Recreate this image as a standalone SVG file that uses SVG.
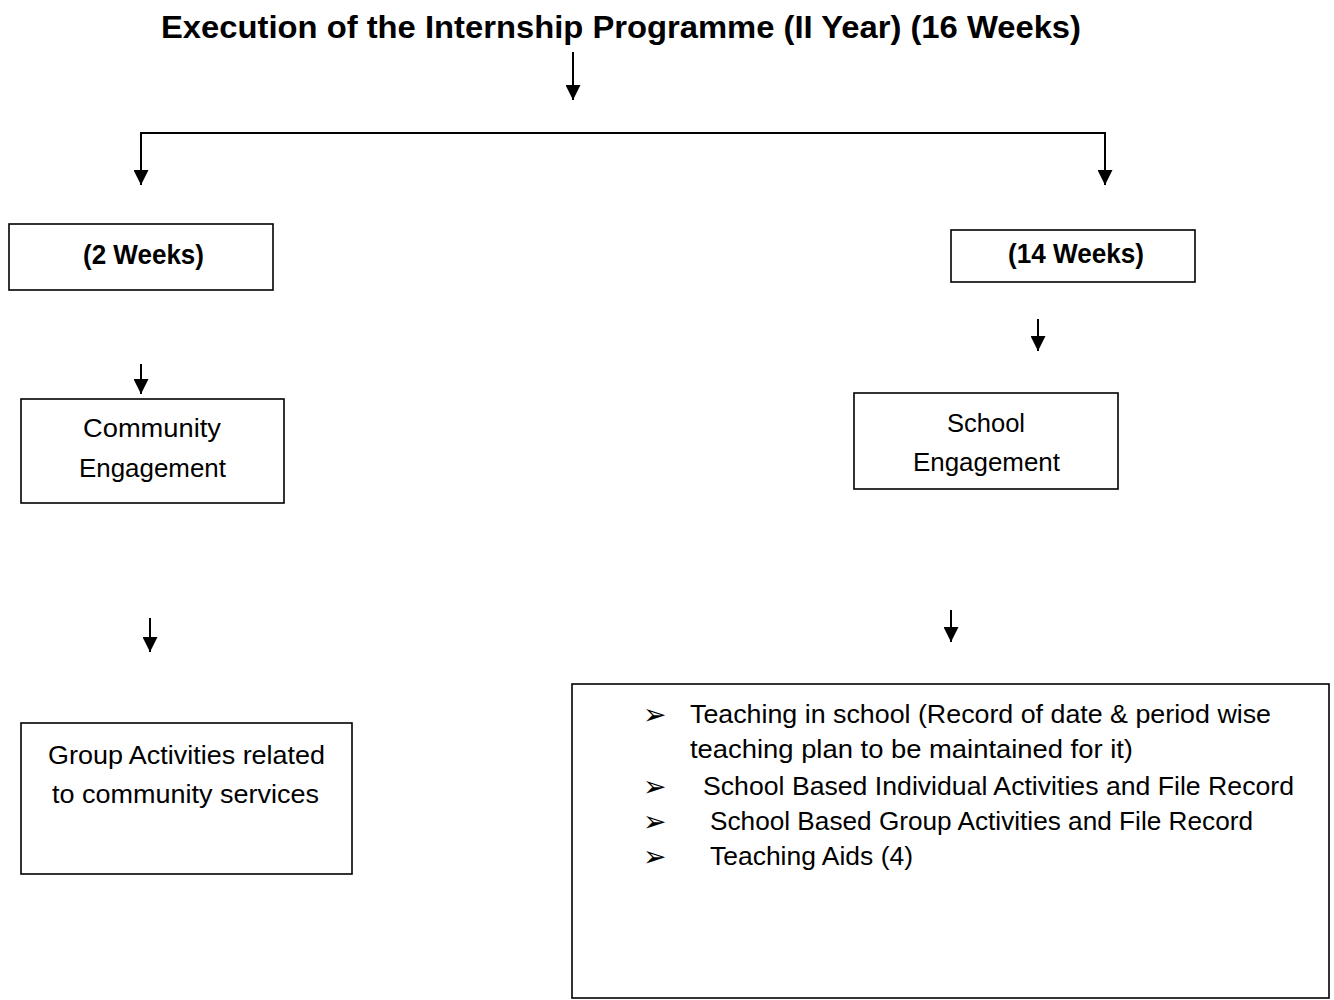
<svg xmlns="http://www.w3.org/2000/svg" width="1334" height="1000" viewBox="0 0 1334 1000">
<style>
.box{fill:#fff;stroke:#000;stroke-width:1.6}
.t{font-family:"Liberation Sans",Arial,sans-serif;font-size:26px;fill:#000}
.b{font-family:"Liberation Sans",Arial,sans-serif;font-size:27px;font-weight:bold;fill:#000}
.ttl{font-family:"Liberation Sans",Arial,sans-serif;font-size:31px;font-weight:bold;fill:#000}
.bul{font-family:"DejaVu Sans",sans-serif;font-size:28px;fill:#000}
.c{fill:none;stroke:#000;stroke-width:2}
</style>
<defs>
<marker id="ah" viewBox="0 0 10 10" refX="10" refY="5" markerWidth="15" markerHeight="15" markerUnits="userSpaceOnUse" orient="auto">
<path d="M0,0 L10,5 L0,10 z" fill="#000"/>
</marker>
</defs>
<rect width="1334" height="1000" fill="#fff"/>
<g id="title">
<text class="ttl" x="161" y="38" textLength="920" lengthAdjust="spacingAndGlyphs">Execution of the Internship Programme (II Year) (16 Weeks)</text>
</g>
<g id="connectors">
<line class="c" x1="573" y1="52" x2="573" y2="100" marker-end="url(#ah)"/>
<polyline class="c" points="141,185 141,133 1105,133 1105,185" stroke-linejoin="miter"/>
<line class="c" x1="141" y1="160" x2="141" y2="185" marker-end="url(#ah)"/>
<line class="c" x1="1105" y1="160" x2="1105" y2="185" marker-end="url(#ah)"/>
<line class="c" x1="141" y1="364" x2="141" y2="394" marker-end="url(#ah)"/>
<line class="c" x1="1038" y1="319" x2="1038" y2="351" marker-end="url(#ah)"/>
<line class="c" x1="150" y1="618" x2="150" y2="652" marker-end="url(#ah)"/>
<line class="c" x1="951" y1="610" x2="951" y2="642" marker-end="url(#ah)"/>
</g>
<g id="n2weeks">
<rect class="box" x="9" y="224" width="264" height="66"/>
<text class="b" x="83" y="264" textLength="121" lengthAdjust="spacingAndGlyphs">(2 Weeks)</text>
</g>
<g id="n14weeks">
<rect class="box" x="951" y="230" width="244" height="52"/>
<text class="b" x="1008" y="263" textLength="136" lengthAdjust="spacingAndGlyphs">(14 Weeks)</text>
</g>
<g id="community">
<rect class="box" x="21" y="399" width="263" height="104"/>
<text class="t" x="83" y="437" textLength="138" lengthAdjust="spacingAndGlyphs">Community</text>
<text class="t" x="79" y="477" textLength="147" lengthAdjust="spacingAndGlyphs">Engagement</text>
</g>
<g id="school">
<rect class="box" x="854" y="393" width="264" height="96"/>
<text class="t" x="947" y="432" textLength="78" lengthAdjust="spacingAndGlyphs">School</text>
<text class="t" x="913" y="471" textLength="147" lengthAdjust="spacingAndGlyphs">Engagement</text>
</g>
<g id="group">
<rect class="box" x="21" y="723" width="331" height="151"/>
<text class="t" x="48" y="764" textLength="277" lengthAdjust="spacingAndGlyphs">Group Activities related</text>
<text class="t" x="52" y="803" textLength="267" lengthAdjust="spacingAndGlyphs">to community services</text>
</g>
<g id="schoolActivities">
<rect class="box" x="572" y="684" width="757" height="314"/>
<text class="bul" x="643" y="724">➢</text>
<text class="t" x="690" y="723" textLength="581" lengthAdjust="spacingAndGlyphs">Teaching in school (Record of date &amp; period wise</text>
<text class="t" x="690" y="758" textLength="443" lengthAdjust="spacingAndGlyphs">teaching plan to be maintained for it)</text>
<text class="bul" x="643" y="796">➢</text>
<text class="t" x="703" y="795" textLength="591" lengthAdjust="spacingAndGlyphs">School Based  Individual Activities and File Record</text>
<text class="bul" x="643" y="831">➢</text>
<text class="t" x="710" y="830" textLength="543" lengthAdjust="spacingAndGlyphs">School Based Group Activities and File Record</text>
<text class="bul" x="643" y="866">➢</text>
<text class="t" x="710" y="865" textLength="203" lengthAdjust="spacingAndGlyphs">Teaching Aids (4)</text>
</g>
</svg>
